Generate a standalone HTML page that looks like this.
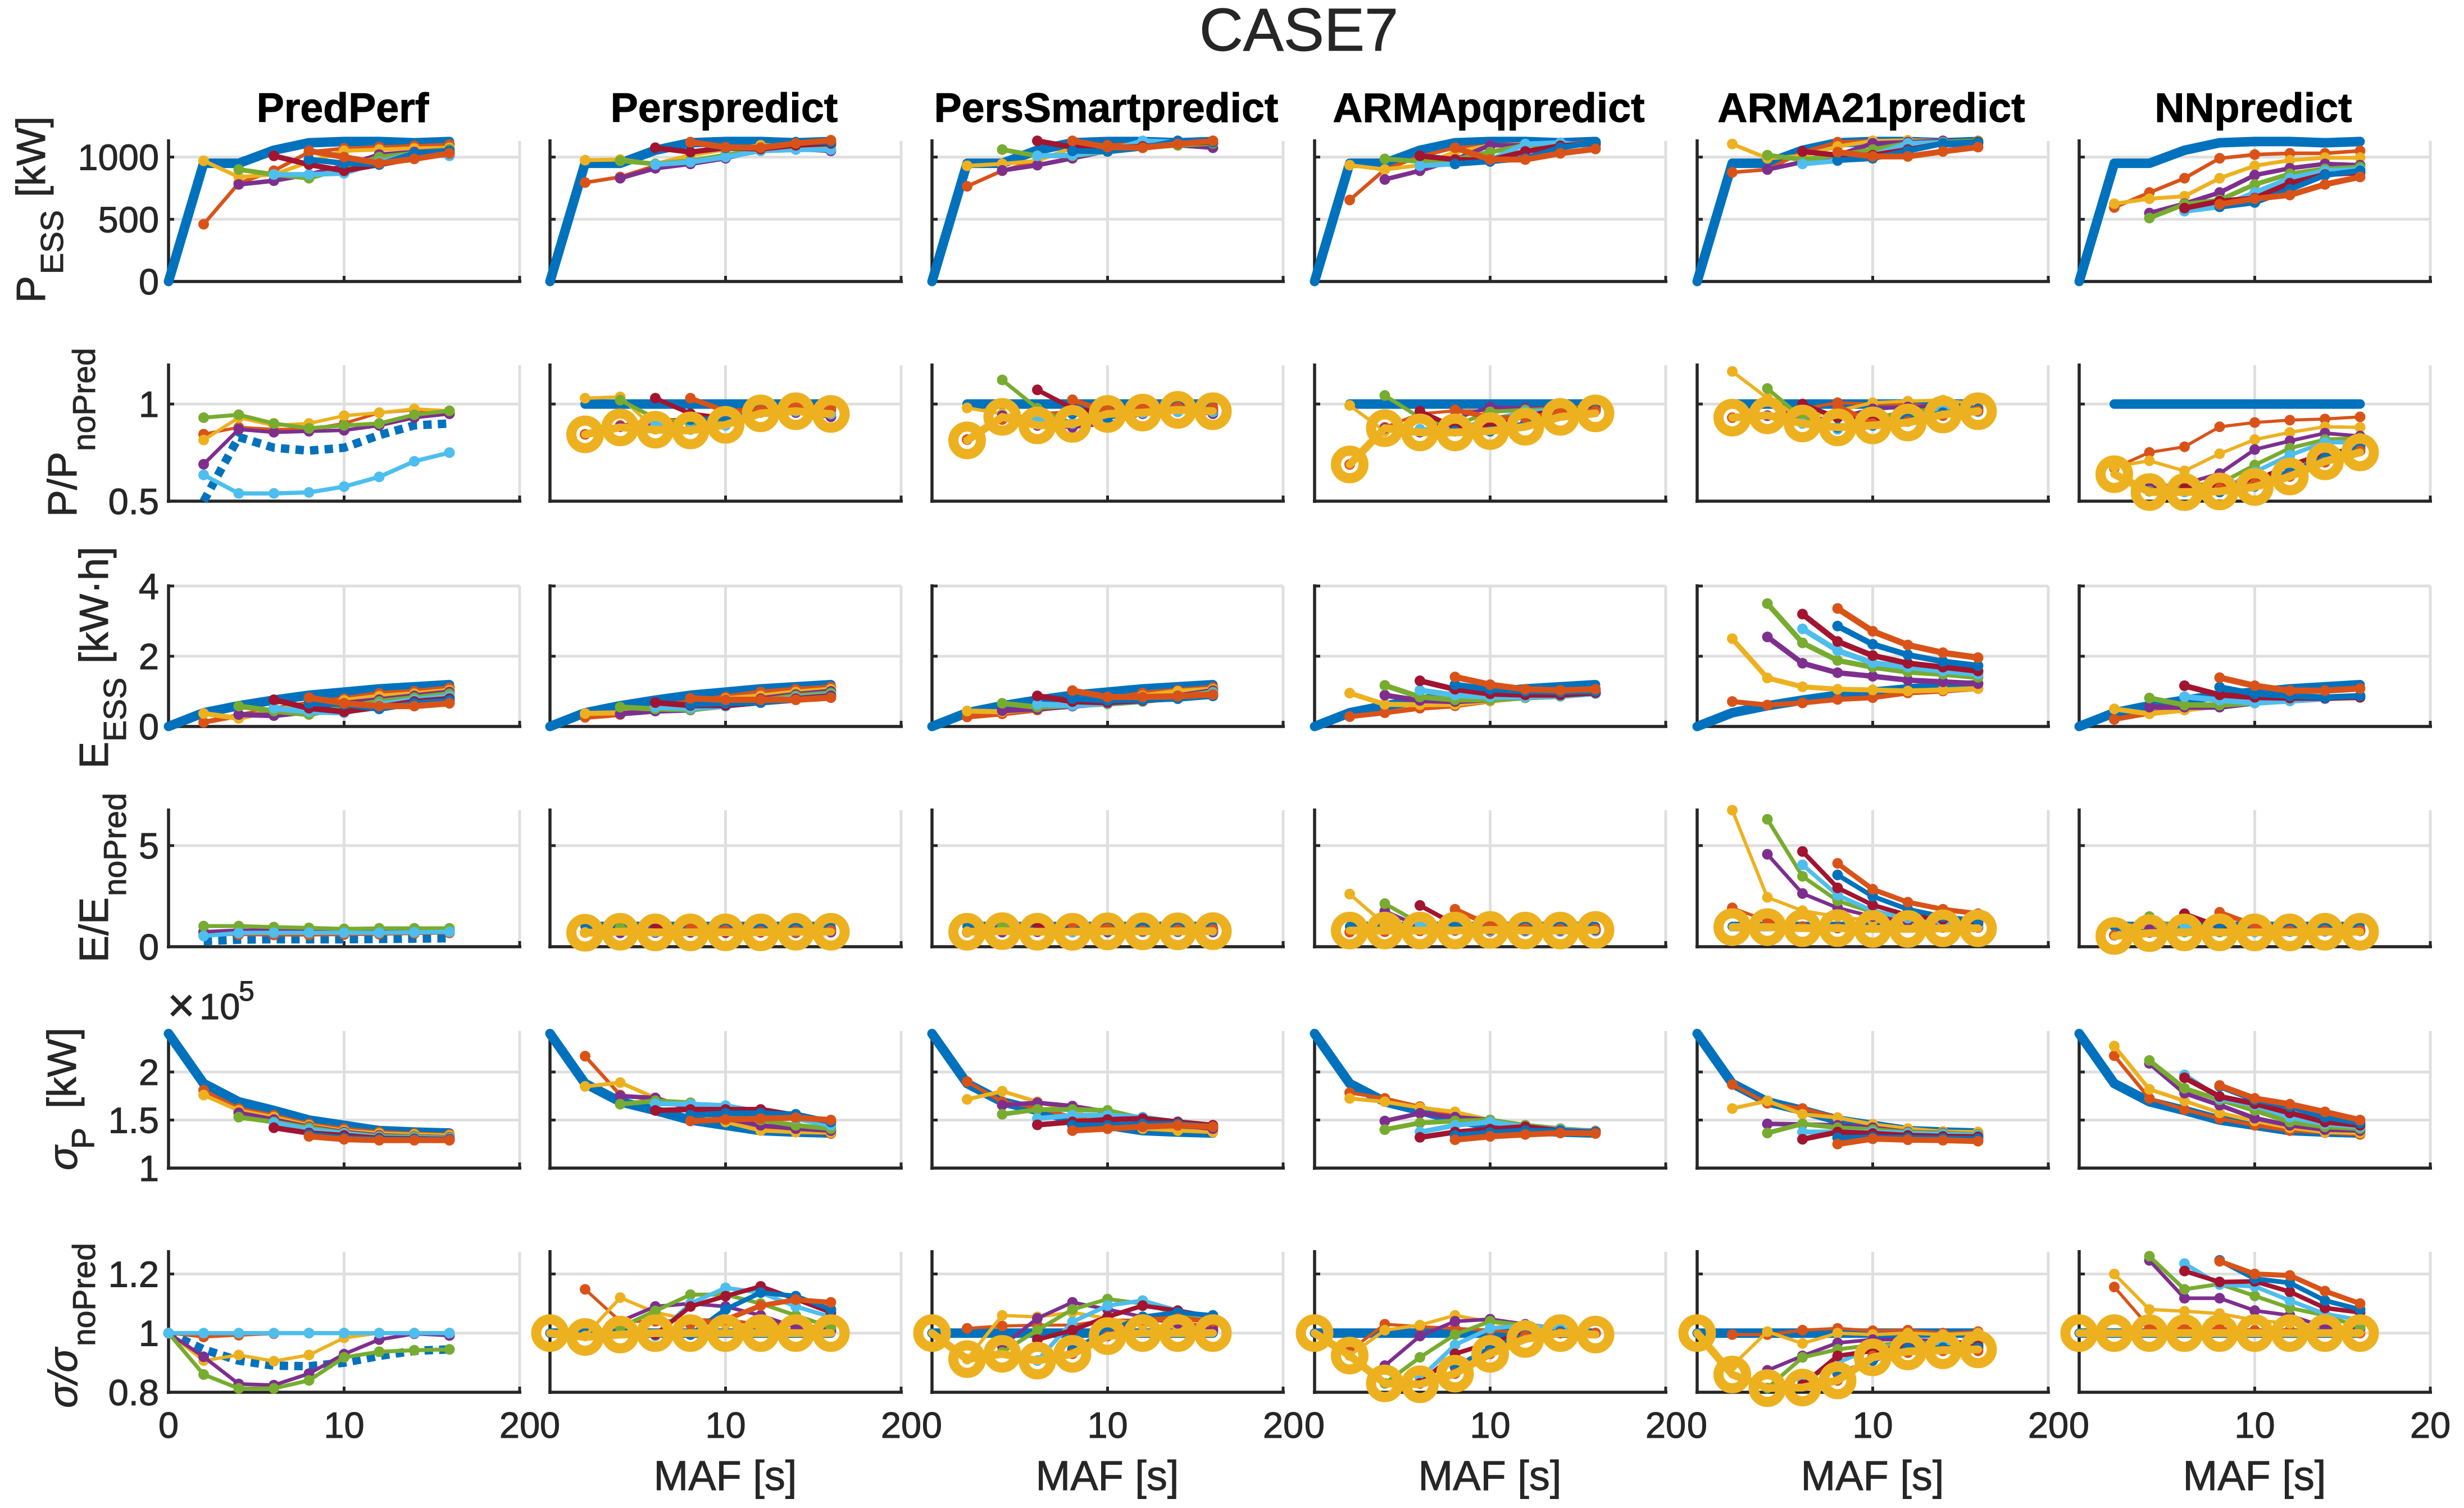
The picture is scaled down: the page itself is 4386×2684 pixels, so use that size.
<!DOCTYPE html>
<html lang="en">
<head>
<meta charset="utf-8">
<title>CASE7</title>
<style>
html,body{margin:0;padding:0;background:#fff;}
svg{display:block;}
text{font-family:"Liberation Sans",sans-serif;fill:#262626;stroke:#262626;stroke-width:1;}
.method{font-size:73.5px;font-weight:bold;fill:#000;stroke:#000;text-anchor:middle;}
.yl{font-size:72px;}
.ys{font-size:57px;}
.xl{font-size:74px;text-anchor:middle;}
.tick{font-size:65px;}
</style>
</head>
<body>
<svg id="chart" xmlns="http://www.w3.org/2000/svg" width="4386" height="2684" viewBox="0 0 4386 2684">
<rect width="4386" height="2684" fill="#fff"/>
<g id="panels"></g>
<text x="2312" y="90" font-size="108" text-anchor="middle">CASE7</text>
<text class="method" x="610" y="217">PredPerf</text>
<text class="method" x="1289" y="217">Perspredict</text>
<text class="method" x="1969" y="217">PersSmartpredict</text>
<text class="method" x="2650" y="217">ARMApqpredict</text>
<text class="method" x="3331" y="217">ARMA21predict</text>
<text class="method" x="4011" y="217">NNpredict</text>

<g>
<text class="yl" transform="translate(80,539) rotate(-90)">P</text>
<text class="ys" transform="translate(112,488) rotate(-90)">ESS</text>
<text class="yl" transform="translate(80,351) rotate(-90)">[kW]</text>
</g>
<g>
<text class="yl" transform="translate(136,920) rotate(-90)">P/P</text>
<text class="ys" transform="translate(169,803) rotate(-90)">noPred</text>
</g>
<g>
<text class="yl" transform="translate(192,1368) rotate(-90)">E</text>
<text class="ys" transform="translate(224,1320) rotate(-90)">ESS</text>
<text class="yl" transform="translate(192,1181) rotate(-90)">[kW·h]</text>
</g>
<g>
<text class="yl" transform="translate(192,1713) rotate(-90)">E/E</text>
<text class="ys" transform="translate(224,1595) rotate(-90)">noPred</text>
</g>
<g>
<text class="yl" font-style="italic" transform="translate(137,2083) rotate(-90)">σ</text>
<text class="ys" transform="translate(167,2045) rotate(-90)">P</text>
<text class="yl" transform="translate(135,1973) rotate(-90)">[kW]</text>
</g>
<g>
<text class="yl" font-style="italic" transform="translate(137,2506) rotate(-90)">σ/σ</text>
<text class="ys" transform="translate(169,2396) rotate(-90)">noPred</text>
</g>

<g>
<text x="298" y="1818" font-size="84">×</text>
<text x="355" y="1814" font-size="65">10</text>
<text x="425" y="1781" font-size="50">5</text>
</g>

<text class="xl" x="1291" y="2652">MAF [s]</text>
<text class="xl" x="1971" y="2652">MAF [s]</text>
<text class="xl" x="2652" y="2652">MAF [s]</text>
<text class="xl" x="3333" y="2652">MAF [s]</text>
<text class="xl" x="4013" y="2652">MAF [s]</text>
</svg>
<script>
// ---- categories and tick labels ----
const mafValues = [0,2,4,6,8,10,12,14,16];
const methodNames = ['predperf','perspredict','perssmartpredict','armapqpredict','arma21predict','nnpredict'];
const metricNames = ['p-ess','p-ratio','e-ess','e-ratio','sigma-p','sigma-ratio'];
const xTickValues = [0,10,20];
const pEssTicks = [0,500,1000];
const pRatioTicks = [0.5,1];
const eEssTicks = [0,2,4];
const eRatioTicks = [0,5];
const sigmaTicks = [1,1.5,2];
const sigmaRatioTicks = [0.8,1,1.2];
const yLimits = [[0,1129],[0.5,1.2],[0,4],[0,6.75],[1,2.427],[0.8,1.275]];

// ---- reference (thick blue) series ----
const pEssBase = [0,950,950,1055,1115,1125,1125,1115,1125];
const eEssBase = [0,.39,.59,.75,.89,.98,1.07,1.13,1.19];
const sigmaBase = [2.4,1.88,1.69,1.6,1.5,1.445,1.39,1.375,1.365];
const ratioBaseShort = [1,1,1,1,1,1,1,1];
const ratioBaseFull = [1,1,1,1,1,1,1,1,1];
const pRatioDashedPredPerf = [.5,.83,.775,.76,.775,.84,.89,.90];
const eRatioDashedPredPerf = [.28,.35,.37,.37,.37,.38,.4,.42];
const sigmaRatioDashedPredPerf = [1,.945,.907,.89,.888,.90,.923,.94,.945];

// ---- P_ESS [kW] : orange, yellow, purple, green, lightblue, darkred, blue, orange (aligned at MAF 16) ----
const pEssPredPerf = [
 [460,790,890,1040,1070,1080,1090,1100],
 [970,840,860,960,1050,1060,1070,1075],
 [780,810,860,930,1020,1040,1060],
 [900,860,830,910,1000,1030,1060],
 [860,860,870,960,1030,1010],
 [1010,940,890,940,990,1030],
 [980,950,940,1030,1050],
 [1050,1000,950,985,1030]];
const pEssPers = [
 [795,840,930,1020,1060,1070,1100,1110],
 [975,980,945,1015,1060,1095,1100,1110],
 [830,910,945,990,1060,1065,1050],
 [970,945,970,1015,1060,1075,1095],
 [940,960,1000,1050,1060,1060],
 [1075,1040,1075,1065,1095,1110],
 [1120,1075,1075,1120,1120],
 [1120,1080,1075,1110,1135]];
const pEssPersSmart = [
 [765,890,970,1075,1095,1110,1120,1130],
 [930,945,970,1075,1075,1095,1120,1130],
 [893,935,990,1050,1110,1095,1075],
 [1060,1010,1010,1045,1075,1095,1110],
 [1010,1015,1050,1130,1120,1120],
 [1130,1080,1075,1085,1110,1120],
 [1050,1045,1075,1130,1120],
 [1130,1080,1075,1105,1130]];
const pEssArmaPq = [
 [655,900,1005,1075,1090,1095,1110,1120],
 [935,900,935,1040,1095,1105,1105,1110],
 [820,890,980,1095,1095,1110,1110],
 [985,965,980,1040,1095,1105,1105],
 [930,945,975,1105,1115,1085],
 [1010,980,975,1045,1090,1110],
 [945,965,990,1075,1120],
 [1075,980,980,1030,1065]];
const pEssArma21 = [
 [877,900,1040,1120,1130,1130,1125,1120],
 [1105,990,1010,1085,1130,1135,1130,1125],
 [900,960,1015,1110,1120,1130,1120],
 [1015,980,1015,1060,1110,1120,1130],
 [945,970,1015,1110,1115,1110],
 [1045,1015,1015,1060,1110,1120],
 [975,990,1050,1110,1115],
 [1040,1005,1005,1045,1080]];
const pEssNN = [
 [595,715,830,990,1020,1030,1030,1050],
 [625,665,685,830,930,975,995,995],
 [550,625,715,855,910,945,935],
 [510,620,655,780,865,905,920],
 [565,600,715,830,890,900],
 [590,645,670,790,860,875],
 [600,635,740,855,890],
 [620,665,695,780,840]];

// ---- P/P_noPred ----
const pRatioPredPerf = [
 [.845,.88,.87,.87,.90,.955,.97,.95],
 [.815,.93,.89,.90,.94,.955,.975,.965],
 [.69,.87,.855,.86,.865,.89,.93,.95],
 [.93,.945,.90,.875,.89,.90,.945,.965],
 [.635,.54,.54,.545,.575,.625,.705,.75]];
const pRatioPers = [
 [.844,.89,.92,.92,.94,.97,.978,.978],
 [1.03,1.037,.87,.875,.92,.985,.978,.978],
 [.883,.90,.92,.905,.97,.956,.934],
 [1.02,.927,.90,.91,.978,.97,.963],
 [.90,.868,.89,.956,.963,.949],
 [1.03,.95,.927,.978,1,.978],
 [.92,.927,.985,.993,.978],
 [1.03,.963,.97,.993,.978]];
const pRatioPersSmart = [
 [.817,.92,.95,.96,.97,.97,.98,.98],
 [.98,.95,.91,.90,.95,.97,.98,.97],
 [.94,.89,.88,.90,.95,.96,.95],
 [1.124,.978,.90,.93,.96,.97,.96],
 [.92,.90,.93,.955,.96,.96],
 [1.073,.978,.95,.975,.985,.975],
 [.95,.93,.97,.98,.97],
 [1.022,.96,.98,.985,.975]];
const pRatioArmaPq = [
 [.689,.88,.95,.965,.965,.98,.985,.985],
 [.993,.86,.87,.87,.90,.95,.96,.97],
 [.875,.855,.925,.985,.98,.98,.975],
 [1.044,.93,.89,.96,.97,.975,.985],
 [.87,.87,.92,.96,.97,.97],
 [.963,.88,.885,.94,.97,.975],
 [.86,.86,.90,.95,.97],
 [.97,.93,.93,.955,.965]];
const pRatioArma21 = [
 [.93,.94,.975,1.007,1,1,.98,.98],
 [1.168,1.03,.93,.965,1.007,1.015,1.02,1],
 [.94,.92,.93,.975,.985,.99,.97],
 [1.08,.927,.88,.93,.96,.98,.975],
 [.90,.87,.89,.94,.97,.96],
 [1,.93,.92,.93,.955,.97],
 [.88,.89,.93,.955,.975],
 [.99,.90,.91,.94,.965]];
const pRatioNN = [
 [.67,.751,.78,.883,.905,.917,.923,.934],
 [.678,.708,.656,.744,.817,.854,.883,.88],
 [.569,.59,.642,.766,.81,.85,.835],
 [.551,.583,.59,.686,.773,.817,.825],
 [.547,.554,.65,.737,.803,.803],
 [.566,.576,.605,.686,.744,.773],
 [.547,.576,.656,.722,.78],
 [.566,.59,.627,.70,.759]];

// ---- E_ESS [kW·h] ----
const eEssPredPerf = [
 [.12,.31,.5,.66,.79,.94,1.0,1.10],
 [.37,.23,.47,.60,.74,.86,.93,1.03],
 [.34,.31,.42,.66,.76,.87,.98],
 [.58,.44,.34,.55,.71,.82,.93],
 [.52,.42,.39,.63,.76,.86],
 [.76,.52,.42,.55,.71,.79],
 [.66,.63,.5,.66,.74],
 [.82,.66,.58,.58,.66]];
const eEssPers = [
 [.26,.34,.55,.71,.84,.98,1.06,1.12],
 [.37,.39,.5,.6,.79,.87,.98,1.06],
 [.36,.44,.47,.6,.79,.91,1.0],
 [.55,.5,.48,.58,.74,.87,.95],
 [.55,.52,.58,.7,.82,.9],
 [.68,.6,.6,.68,.79,.87],
 [.63,.66,.68,.76,.84],
 [.8,.76,.76,.76,.82]];
const eEssPersSmart = [
 [.27,.36,.47,.63,.76,.95,1.03,1.11],
 [.44,.42,.5,.6,.74,.87,1.0,1.06],
 [.45,.5,.58,.66,.74,.87,1.02],
 [.66,.55,.6,.64,.71,.84,.98],
 [.63,.6,.66,.73,.82,.95],
 [.87,.71,.68,.74,.8,.9],
 [.79,.74,.76,.79,.87],
 [1.02,.84,.84,.86,.91]];
const eEssArmaPq = [
 [.28,.39,.52,.59,.73,.83,.87,.95],
 [.95,.63,.62,.63,.74,.82,.86,.94],
 [.89,.74,.71,.76,.82,.86,.94],
 [1.17,.84,.76,.76,.82,.86,.94],
 [1.03,.89,.84,.84,.87,.94],
 [1.3,1.06,.93,.9,.9,.96],
 [1.19,1.06,1.0,.98,1.0],
 [1.41,1.19,1.06,1.03,1.06]];
const eEssArma21 = [
 [.71,.61,.67,.77,.82,.955,1.01,1.08],
 [2.5,1.38,1.13,1.06,1.04,1.01,1.04,1.08],
 [2.55,1.8,1.53,1.43,1.32,1.27,1.22],
 [3.5,2.38,1.88,1.69,1.55,1.49,1.4],
 [2.78,2.16,1.81,1.69,1.58,1.49],
 [3.2,2.42,2.02,1.8,1.69,1.58],
 [2.86,2.34,2.04,1.85,1.73],
 [3.36,2.71,2.32,2.1,1.96]];
const eEssNN = [
 [.2,.38,.47,.59,.67,.73,.79,.85],
 [.5,.36,.47,.59,.67,.73,.79,.83],
 [.55,.55,.55,.67,.73,.79,.87],
 [.81,.61,.61,.67,.73,.79,.85],
 [.85,.75,.67,.73,.79,.87],
 [1.16,.9,.83,.81,.81,.83],
 [1.12,.93,.87,.83,.87],
 [1.39,1.16,1.02,1.02,1.08]];

// ---- E/E_noPred ----
const eRatioPredPerf = [
 [.6,.6,.58,.58,.6,.62,.65,.68],
 [.68,.74,.72,.74,.75,.76,.77,.78],
 [.74,.81,.81,.79,.77,.77,.77,.79],
 [1.02,1.02,.97,.93,.88,.91,.91,.91],
 [.53,.68,.69,.69,.69,.69,.71,.74]];
const eRatioPers = [
 [.7,.72,.72,.78,.75,.74,.68,.72],
 [.7,.74,.71,.71,.71,.71,.74,.74],
 [.68,.7,.72,.7,.72,.74,.72],
 [.93,.76,.72,.72,.72,.8,.84],
 [.74,.7,.7,.72,.76,.8],
 [1.02,.72,.7,.72,.78,.84],
 [.85,.8,.8,.8,.86],
 [1.04,.82,.76,.78,.8]];
const eRatioPersSmart = [
 [.72,.72,.75,.8,.74,.78,.76,.72],
 [.74,.77,.74,.74,.76,.76,.76,.77],
 [.72,.74,.74,.74,.74,.74,.74],
 [1.06,.8,.74,.74,.76,.78,.8],
 [.8,.72,.72,.76,.8,.8],
 [1.1,.8,.74,.78,.82,.84],
 [.85,.78,.8,.84,.88],
 [1.16,.9,.8,.84,.86]];
const eRatioArmaPq = [
 [.72,.74,.78,.8,.76,.76,.76,.78],
 [2.6,1.1,.85,.85,.83,.8,.8,.83],
 [1.76,1.0,.85,.8,.78,.78,.8],
 [2.13,1.15,.9,.8,.8,.8,.82],
 [1.1,.9,.8,.76,.78,.8],
 [2.04,1.1,.85,.82,.82,.84],
 [1.15,.9,.85,.84,.86],
 [1.85,1.06,.9,.88,.88]];
const eRatioArma21 = [
 [1.92,1.28,1,.92,.95,.95,.95,.95],
 [6.75,2.44,1.78,1.49,1.28,1.14,1.06,1],
 [4.57,2.63,1.92,1.49,1.28,1.14,1.02],
 [6.3,3.48,2.27,1.7,1.42,1.2,1.06],
 [4.05,2.55,1.78,1.42,1.2,1.06],
 [4.71,2.91,2.06,1.56,1.35,1.2],
 [3.55,2.49,1.85,1.49,1.28],
 [4.12,2.84,2.2,1.85,1.63]];
const eRatioNN = [
 [.57,.7,.75,.8,.78,.78,.78,.8],
 [1.2,.9,.76,.74,.74,.74,.76,.78],
 [.85,.8,.74,.74,.74,.76,.78],
 [1.49,.72,.72,.74,.74,.76,.78],
 [1.05,.8,.72,.74,.76,.8],
 [1.63,1.0,.82,.78,.8,.82],
 [1.1,.9,.78,.82,.84],
 [1.7,1.06,.8,.8,.8]];

// ---- sigma_P [kW] x 10^5 ----
const sigmaPredPerf = [
 [1.81,1.62,1.55,1.46,1.41,1.375,1.36,1.35],
 [1.76,1.6,1.53,1.445,1.39,1.36,1.35,1.34],
 [1.575,1.505,1.43,1.375,1.34,1.33,1.32],
 [1.53,1.48,1.42,1.365,1.33,1.325,1.315],
 [1.47,1.40,1.36,1.32,1.315,1.31],
 [1.42,1.365,1.34,1.31,1.305,1.30],
 [1.35,1.315,1.30,1.30,1.295],
 [1.33,1.30,1.29,1.29,1.29]];
const sigmaPers = [
 [2.165,1.76,1.71,1.62,1.5,1.43,1.375,1.36],
 [1.85,1.89,1.73,1.62,1.48,1.39,1.375,1.37],
 [1.75,1.73,1.62,1.515,1.445,1.41,1.39],
 [1.665,1.7,1.68,1.55,1.5,1.445,1.41],
 [1.67,1.665,1.65,1.585,1.515,1.445],
 [1.6,1.61,1.61,1.61,1.55,1.48],
 [1.55,1.57,1.57,1.56,1.48],
 [1.49,1.505,1.515,1.525,1.5]];
const sigmaPersSmart = [
 [1.9,1.69,1.63,1.53,1.46,1.41,1.39,1.375],
 [1.715,1.8,1.69,1.6,1.46,1.41,1.39,1.375],
 [1.655,1.68,1.645,1.585,1.49,1.445,1.41],
 [1.56,1.61,1.61,1.6,1.515,1.46,1.43],
 [1.515,1.55,1.55,1.53,1.48,1.445],
 [1.45,1.48,1.505,1.515,1.48,1.445],
 [1.445,1.445,1.46,1.46,1.43],
 [1.39,1.41,1.43,1.445,1.43]];
const sigmaArmaPq = [
 [1.785,1.725,1.64,1.55,1.48,1.435,1.4,1.385],
 [1.725,1.69,1.63,1.585,1.5,1.435,1.4,1.385],
 [1.49,1.57,1.53,1.5,1.445,1.41,1.385],
 [1.4,1.47,1.49,1.5,1.445,1.41,1.385],
 [1.375,1.445,1.48,1.43,1.4,1.38],
 [1.32,1.375,1.405,1.43,1.39,1.375],
 [1.34,1.37,1.39,1.385,1.37],
 [1.295,1.33,1.35,1.365,1.36]];
const sigmaArma21 = [
 [1.87,1.675,1.62,1.525,1.455,1.41,1.38,1.375],
 [1.62,1.7,1.56,1.525,1.455,1.41,1.38,1.375],
 [1.46,1.455,1.445,1.42,1.375,1.365,1.35],
 [1.365,1.46,1.42,1.4,1.37,1.36,1.35],
 [1.375,1.375,1.375,1.36,1.35,1.34],
 [1.3,1.375,1.36,1.34,1.33,1.325],
 [1.315,1.32,1.315,1.31,1.305],
 [1.25,1.305,1.295,1.29,1.28]];
const sigmaNN = [
 [2.17,1.725,1.61,1.515,1.445,1.39,1.37,1.35],
 [2.27,1.82,1.7,1.575,1.49,1.42,1.375,1.365],
 [2.09,1.78,1.655,1.52,1.445,1.4,1.39],
 [2.12,1.83,1.71,1.6,1.48,1.43,1.41],
 [1.97,1.725,1.655,1.53,1.46,1.43],
 [1.94,1.745,1.67,1.575,1.48,1.445],
 [1.85,1.71,1.64,1.53,1.47],
 [1.86,1.725,1.665,1.585,1.5]];

// ---- sigma/sigma_noPred ----
const sigmaRatioPredPerf = [
 [1,.987,.993,.998,1,1,1,1,1],
 [1,.907,.926,.905,.926,.984,1,1,1],
 [1,.92,.828,.824,.863,.929,.978,.998,.992],
 [1,.86,.813,.813,.84,.918,.937,.942,.945],
 [1,1,1,1,1,1,1,1,1]];
const sigmaRatioPers = [
 [1.148,1.04,1.04,1.045,1.045,1.03,1.03,1.015],
 [.99,1.12,1.07,1.045,1.03,1.02,1.01,1.005],
 [1.04,1.09,1.10,1.09,1.06,1.02,1.01],
 [1.02,1.075,1.13,1.13,1.10,1.06,1.02],
 [.99,1.10,1.153,1.137,1.09,1.055],
 [.995,1.09,1.125,1.158,1.115,1.07],
 [.995,1.08,1.137,1.125,1.08],
 [1.03,1.045,1.093,1.113,1.104]];
const sigmaRatioPersSmart = [
 [1.016,1.024,1.027,1.027,1.044,1.044,1.038,1.02],
 [.912,1.06,1.055,1.07,1.05,1.027,1.02,1.01],
 [.956,1.05,1.104,1.08,1.055,1.033,1.01],
 [.935,1.01,1.08,1.115,1.1,1.065,1.04],
 [.907,1.038,1.093,1.11,1.076,1.05],
 [.978,1.01,1.055,1.093,1.076,1.055],
 [.945,1.005,1.055,1.07,1.06],
 [.93,.99,1.045,1.05,1.04]];
const sigmaRatioArmaPq = [
 [.94,1.03,1.022,1.016,1.01,1,1,1],
 [.924,1.01,1.027,1.06,1.038,1.016,1.01,1],
 [.89,.99,1.04,1.047,1.03,1.016,1],
 [.83,.918,.995,1.04,1.027,1.016,1],
 [.847,.96,1.016,1.027,1.016,1],
 [.83,.93,.967,1,1.005,1],
 [.885,.95,.995,1.005,1],
 [.863,.93,.99,1,1]];
const sigmaRatioArma21 = [
 [.995,.995,1.01,1.016,1.008,1.01,1,1.005],
 [.89,1.005,.965,1,.995,1,.995,1],
 [.874,.923,.967,.978,.978,.973,.967],
 [.814,.918,.945,.96,.967,.967,.96],
 [.836,.90,.95,.96,.96,.956],
 [.825,.923,.94,.956,.95,.956],
 [.863,.907,.95,.95,.95],
 [.84,.923,.934,.94,.94]];
const sigmaRatioNN = [
 [1.156,1.02,1.016,1.016,1.01,1.01,1.005,1],
 [1.2,1.08,1.074,1.066,1.044,1.033,1.02,1.01],
 [1.246,1.118,1.118,1.076,1.06,1.02,1.016],
 [1.26,1.148,1.166,1.126,1.085,1.06,1.02],
 [1.235,1.164,1.158,1.11,1.065,1.044],
 [1.21,1.173,1.175,1.14,1.085,1.07],
 [1.246,1.184,1.17,1.11,1.08],
 [1.243,1.2,1.195,1.142,1.1]];

// ---- envelope series with large ring markers (yellow) ----
const pRatioRingPers = [.844,.88,.868,.864,.893,.952,.963,.949];
const pRatioRingPersSmart = [.813,.934,.89,.898,.949,.956,.97,.963];
const pRatioRingArmaPq = [.689,.876,.854,.854,.861,.883,.934,.952];
const pRatioRingArma21 = [.93,.942,.9,.88,.89,.905,.946,.963];
const pRatioRingNN = [.639,.547,.547,.55,.573,.627,.705,.751];
const eRatioRingPers = [.69,.74,.71,.71,.71,.71,.74,.74];
const eRatioRingPersSmart = [.74,.77,.74,.74,.76,.76,.76,.77];
const eRatioRingArmaPq = [.8,.8,.8,.8,.83,.8,.8,.83];
const eRatioRingArma21 = [.97,.97,.92,.92,.88,.88,.91,.91];
const eRatioRingNN = [.53,.67,.71,.71,.71,.71,.74,.74];
const sigmaRatioRingPers = [1,.987,.995,1,1,1,1,1,1];
const sigmaRatioRingPersSmart = [1,.912,.93,.907,.93,.99,1,1,1];
const sigmaRatioRingArmaPq = [1,.924,.83,.827,.863,.93,.98,1,.995];
const sigmaRatioRingArma21 = [1,.86,.814,.816,.84,.918,.938,.942,.945];
const sigmaRatioRingNN = [1,1,1,1,1,1,1,1,1];

const tableByRow = [
 [pEssPredPerf,pEssPers,pEssPersSmart,pEssArmaPq,pEssArma21,pEssNN],
 [pRatioPredPerf,pRatioPers,pRatioPersSmart,pRatioArmaPq,pRatioArma21,pRatioNN],
 [eEssPredPerf,eEssPers,eEssPersSmart,eEssArmaPq,eEssArma21,eEssNN],
 [eRatioPredPerf,eRatioPers,eRatioPersSmart,eRatioArmaPq,eRatioArma21,eRatioNN],
 [sigmaPredPerf,sigmaPers,sigmaPersSmart,sigmaArmaPq,sigmaArma21,sigmaNN],
 [sigmaRatioPredPerf,sigmaRatioPers,sigmaRatioPersSmart,sigmaRatioArmaPq,sigmaRatioArma21,sigmaRatioNN]];
const ringsByRow = {
 1:[null,pRatioRingPers,pRatioRingPersSmart,pRatioRingArmaPq,pRatioRingArma21,pRatioRingNN],
 3:[null,eRatioRingPers,eRatioRingPersSmart,eRatioRingArmaPq,eRatioRingArma21,eRatioRingNN],
 5:[null,sigmaRatioRingPers,sigmaRatioRingPersSmart,sigmaRatioRingArmaPq,sigmaRatioRingArma21,sigmaRatioRingNN]};
const baseByRow = [pEssBase,ratioBaseShort,eEssBase,ratioBaseShort,sigmaBase,ratioBaseFull];
const dashedByRow = {1:pRatioDashedPredPerf,3:eRatioDashedPredPerf,5:sigmaRatioDashedPredPerf};
const ticksByRow = [pEssTicks,pRatioTicks,eEssTicks,eRatioTicks,sigmaTicks,sigmaRatioTicks];

// ---- layout and style ----
const colLeft = [300,979,1659,2340,3021,3701];
const plotWidth = 625;
const rowTop = [251,650,1043,1442,1835,2228];
const rowBottom = [501,892,1293,1685,2079,2478];
const seriesColors = ['#D95319','#EDB120','#7E2F8E','#77AC30','#4DBEEE','#A2142F','#0072BD','#D95319'];
const widthsRatio = [5.5,6,6.5,7,7.5,8,8.5,9];
const widthsPower = [6.5,7,8,8.5,9,9.5,10,10.5];
const widthsEnergy = [9,9,9.5,9.5,10,10,10.5,11];
const widthsByRow = [widthsPower,widthsRatio,widthsEnergy,widthsRatio,widthsPower,widthsRatio];
const SVGNS = 'http://www.w3.org/2000/svg';
const AXIS = '#262626';
const GRID = '#dfdfdf';

function xScale(col, v){ return colLeft[col] + v / 20 * plotWidth; }
function yScale(row, v){
  const lim = yLimits[row];
  return rowBottom[row] - (v - lim[0]) / (lim[1] - lim[0]) * (rowBottom[row] - rowTop[row]);
}
function make(parent, tag, name, props){
  const el = document.createElementNS(SVGNS, tag);
  
  
  for (const k in props) el.setAttribute(k, props[k]);
  parent.appendChild(el);
  return el;
}
function seriesPoints(col, row, values){
  const off = mafValues.length - values.length;
  return values.map((v, i) => [xScale(col, mafValues[i + off]), yScale(row, v)]);
}
function polyline(parent, name, pts, color, width, extra){
  const props = Object.assign({points: pts.map(p => p[0].toFixed(1) + ',' + p[1].toFixed(1)).join(' '),
    fill:'none', stroke:color, 'stroke-width':width, 'stroke-linejoin':'round', 'stroke-linecap':'round'}, extra || {});
  return make(parent, 'polyline', name, props);
}

const root = document.getElementById('panels');
for (let row = 0; row < 6; row++) {
  for (let col = 0; col < 6; col++) {
    const panelName = metricNames[row] + '-' + methodNames[col];
    const g = make(root, 'g', 'panel-' + panelName, {});
    const L = colLeft[col], R = L + plotWidth, T = rowTop[row], B = rowBottom[row];
    // grid
    ticksByRow[row].forEach(t => {
      if (t === yLimits[row][0]) return;
      const y = yScale(row, t);
      make(g, 'line', 'y-grid-line', {x1:L, x2:R, y1:y, y2:y, stroke:GRID, 'stroke-width':5});
    });
    [10,20].forEach(t => {
      const x = xScale(col, t);
      make(g, 'line', 'x-grid-line', {x1:x, x2:x, y1:T, y2:B, stroke:GRID, 'stroke-width':5});
    });
    // axes
    make(g, 'line', 'y-axis-line', {x1:L, x2:L, y1:T-3, y2:B+3, stroke:AXIS, 'stroke-width':5.5});
    make(g, 'line', 'x-axis-line', {x1:L-3, x2:R+3, y1:B, y2:B, stroke:AXIS, 'stroke-width':5.5});
    ticksByRow[row].forEach(t => {
      const y = yScale(row, t);
      make(g, 'line', 'y-tick', {x1:L, x2:L+10, y1:y, y2:y, stroke:AXIS, 'stroke-width':5});
      if (col === 0) {
        const lab = make(g, 'text', 'y-tick-label', {x:283, y:y + 23, 'text-anchor':'end', class:'tick'});
        lab.textContent = String(t);
      }
    });
    xTickValues.forEach(t => {
      const x = xScale(col, t);
      if (t > 0) make(g, 'line', 'x-tick', {x1:x, x2:x, y1:B, y2:B-10, stroke:AXIS, 'stroke-width':5});
      if (row === 5) {
        const lab = make(g, 'text', 'x-tick-label', {x:x, y:2559, 'text-anchor':'middle', class:'tick'});
        lab.textContent = String(t);
      }
    });
    // reference series
    const widths = widthsByRow[row];
    if (col === 0 && dashedByRow[row]) {
      polyline(g, 'no-prediction-dashed-line', seriesPoints(col, row, dashedByRow[row]), '#0072BD', 15,
        {'stroke-dasharray':'15 11', 'stroke-linecap':'butt', 'stroke-linejoin':'miter'});
    } else {
      polyline(g, 'no-prediction-line', seriesPoints(col, row, baseByRow[row]), '#0072BD', 17);
    }
    // forecast horizon series
    tableByRow[row][col].forEach((vals, s) => {
      const pts = seriesPoints(col, row, vals);
      const sg = make(g, 'g', 'series-' + (s + 1), {});
      polyline(sg, 'series-line', pts, seriesColors[s], widths[s]);
      pts.forEach(p => {
        make(sg, 'circle', 'series-point', {cx:p[0], cy:p[1], r:9.5, fill:seriesColors[s]});
      });
    });
    // envelope rings
    const rings = ringsByRow[row] && ringsByRow[row][col];
    if (rings) {
      const pts = seriesPoints(col, row, rings);
      const rg = make(g, 'g', 'envelope-series', {});
      polyline(rg, 'envelope-line', pts, '#EDB120', 14);
      pts.forEach(p => {
        make(rg, 'circle', 'envelope-ring', {cx:p[0], cy:p[1], r:24.5, fill:'none', stroke:'#EDB120', 'stroke-width':18});
      });
    }
  }
}
</script>
</body>
</html>
